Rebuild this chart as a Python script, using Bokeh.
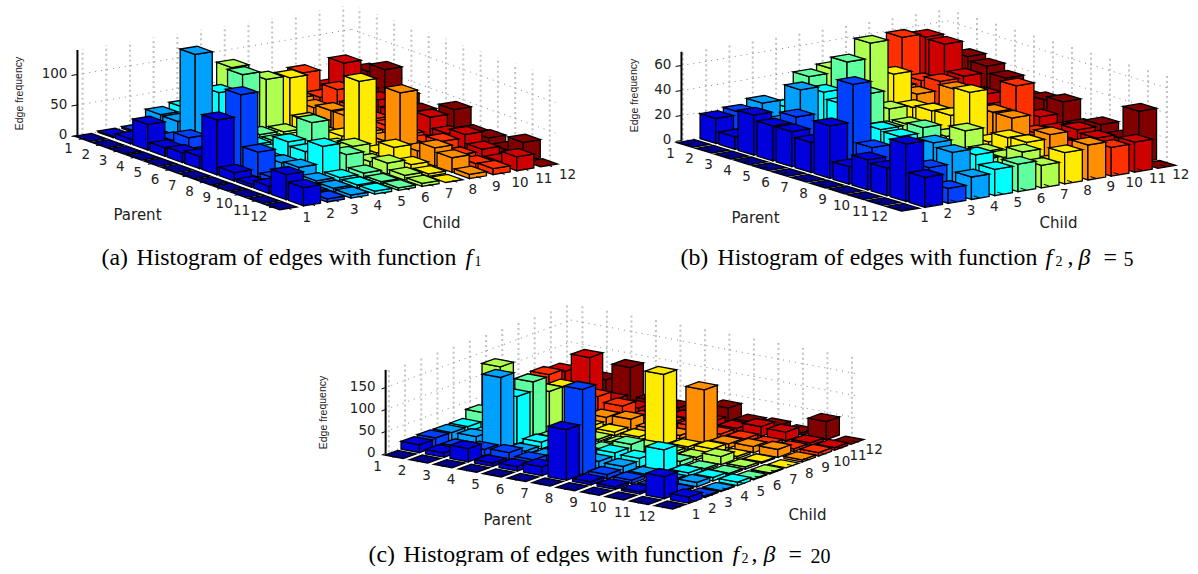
from bokeh.plotting import figure
from bokeh.embed import file_html
from bokeh.resources import INLINE
from bokeh.core.properties import value

parent_labels = [str(i) for i in range(1, 13)]
child_labels = [str(i) for i in range(1, 13)]

f1_counts = [
    [0, 2, 3, 25, 30, 45, 83, 30, 20, 55, 25, 25],
    [0, 8, 6, 24, 20, 30, 40, 40, 30, 25, 75, 55],
    [0, 42, 10, 144, 75, 98, 84, 80, 25, 48, 40, 68],
    [0, 14, 24, 10, 12, 10, 8, 20, 30, 30, 35, 35],
    [0, 16, 8, 8, 10, 8, 6, 8, 30, 20, 25, 20],
    [0, 20, 6, 5, 8, 8, 8, 15, 15, 18, 15, 15],
    [0, 90, 125, 15, 35, 60, 15, 115, 12, 15, 37, 43],
    [0, 14, 41, 17, 29, 12, 25, 8, 100, 12, 20, 15],
    [0, 5, 8, 20, 48, 28, 10, 27, 15, 24, 29, 17],
    [0, 12, 5, 8, 7, 8, 18, 9, 30, 12, 15, 8],
    [0, 41, 6, 6, 5, 4, 8, 4, 24, 8, 5, 30],
    [0, 30, 5, 5, 5, 4, 5, 0, 7, 10, 23, 0],
]
f2_beta5_counts = [
    [0, 20, 22, 26, 20, 41, 44, 30, 30, 60, 57, 35],
    [0, 10, 12, 15, 20, 28, 35, 25, 28, 30, 56, 43],
    [0, 32, 15, 46, 41, 62, 74, 46, 27, 34, 35, 40],
    [0, 28, 32, 15, 36, 41, 26, 24, 18, 25, 25, 35],
    [0, 28, 10, 12, 15, 18, 18, 26, 40, 20, 18, 25],
    [0, 24, 10, 10, 25, 15, 15, 27, 15, 18, 15, 27],
    [0, 42, 72, 14, 24, 28, 18, 50, 31, 49, 21, 30],
    [0, 14, 26, 10, 12, 14, 27, 15, 31, 16, 15, 15],
    [0, 24, 12, 12, 12, 14, 15, 23, 16, 14, 20, 21],
    [0, 22, 12, 36, 12, 16, 15, 24, 27, 14, 18, 15],
    [0, 46, 24, 33, 28, 12, 24, 12, 14, 10, 12, 41],
    [0, 24, 12, 18, 21, 22, 18, 25, 28, 23, 24, 0],
]
f2_beta20_counts = [
    [0, 18, 20, 19, 19, 37, 128, 40, 20, 70, 64, 25],
    [0, 10, 10, 20, 15, 20, 30, 35, 30, 30, 106, 42],
    [0, 30, 15, 165, 108, 128, 93, 89, 16, 41, 20, 80],
    [0, 8, 18, 8, 15, 12, 6, 10, 18, 30, 12, 15],
    [0, 10, 12, 6, 6, 5, 5, 8, 24, 12, 10, 10],
    [0, 20, 8, 6, 6, 5, 5, 8, 12, 12, 10, 8],
    [0, 115, 193, 16, 22, 28, 8, 160, 8, 15, 12, 30],
    [0, 7, 10, 15, 20, 6, 6, 6, 122, 8, 8, 8],
    [0, 6, 8, 7, 50, 10, 6, 12, 10, 8, 22, 10],
    [0, 5, 4, 5, 8, 4, 18, 5, 14, 6, 20, 5],
    [0, 50, 3, 10, 8, 4, 5, 3, 18, 6, 6, 41],
    [0, 14, 3, 2, 8, 2, 2, 0, 5, 8, 6, 0],
]

JET = ["#00008c", "#0000dc", "#0040ff", "#00a0ff", "#00ffff", "#60ff9f",
       "#afff50", "#ffeb00", "#ff8f00", "#ff3000", "#cf0000", "#800000"]

FONT = "DejaVu Sans"
SERIF = "Liberation Serif"

p = figure(width=1190, height=566, x_range=(0, 1190), y_range=(566, 0),
           output_backend="svg", toolbar_location=None, min_border=0)
p.xaxis.visible = False
p.yaxis.visible = False
p.grid.visible = False
p.outline_line_color = None


def label(x, y, s, size=13.5, font=FONT, style="normal", align="center", base="middle", angle=0, color="#222222"):
    p.text([x], [y], text=[s], text_font=value(font), text_font_size=value(f"{size}px"),
           text_font_style=value(style), text_align=value(align), text_baseline=value(base),
           angle=angle, text_color=value(color))


def panel(counts, origin, pvec, cvec, zs, wp, wc, prange, crange, zticks, zmax,
          pl_off, cl_off, parent_xy, child_xy, ylabel_xy):
    def proj(pp, cc, z=0.0):
        return (origin[0] + (pp - 1) * pvec[0] + (cc - 1) * cvec[0],
                origin[1] + (pp - 1) * pvec[1] + (cc - 1) * cvec[1] - z * zs)

    p0, p1 = prange
    c0, c1 = crange

    hx, hy, vx, vy = [], [], [], []
    for z in zticks:
        for a, b in ((proj(p0, c0, z), proj(p0, c1, z)), (proj(p0, c1, z), proj(p1, c1, z))):
            hx.append([a[0], b[0]]); hy.append([a[1], b[1]])
    for i in range(1, 13):
        for a, b in ((proj(p0, i), proj(p0, i, zmax)), (proj(i, c1), proj(i, c1, zmax))):
            vx.append([a[0], b[0]]); vy.append([a[1], b[1]])
    p.multi_line(vx, vy, line_color="#c2c2c2", line_width=2, line_dash="2 3")
    p.multi_line(hx, hy, line_color="#8a8a8a", line_width=1, line_dash="1 5")

    xs, ys, fills = [], [], []
    for i in range(12):
        for j in range(11, -1, -1):
            v = counts[i][j]
            pc, cc = i + 1, j + 1
            pa, pb = pc - wp / 2, pc + wp / 2
            ca, cb = cc - wc / 2, cc + wc / 2
            faces = [
                [proj(pa, ca, 0), proj(pb, ca, 0), proj(pb, ca, v), proj(pa, ca, v)],
                [proj(pb, ca, 0), proj(pb, cb, 0), proj(pb, cb, v), proj(pb, ca, v)],
                [proj(pa, ca, v), proj(pb, ca, v), proj(pb, cb, v), proj(pa, cb, v)],
            ]
            if v == 0:
                faces = faces[2:]
            for f in faces:
                xs.append([q[0] for q in f])
                ys.append([q[1] for q in f])
                fills.append(JET[j])
    p.patches(xs, ys, fill_color=fills, line_color="#000000", line_width=1.3, line_join="miter")

    a = proj(p0, c0); b = proj(p0, c0, zmax)
    p.line([a[0], b[0]], [a[1], b[1]], line_color="black", line_width=2)
    tx, ty = [], []
    for z in zticks:
        q = proj(p0, c0, z); r = proj(p0, c0 - 0.25, z)
        tx.append([q[0], r[0]]); ty.append([q[1], r[1]])
        label(q[0] - 10, q[1] - 1, str(z), align="right")
    for i in range(1, 13):
        q = proj(i, c0); r = proj(i, c0 - 0.28)
        tx.append([q[0], r[0]]); ty.append([q[1], r[1]])
        q = proj(p1, i); r = proj(p1 + 0.28, i)
        tx.append([q[0], r[0]]); ty.append([q[1], r[1]])
        q = proj(i, 1)
        label(q[0] + pl_off[0], q[1] + pl_off[1], parent_labels[i - 1])
        q = proj(12, i)
        label(q[0] + cl_off[0], q[1] + cl_off[1], child_labels[i - 1])
    p.multi_line(tx, ty, line_color="black", line_width=1)

    label(parent_xy[0], parent_xy[1], "Parent", size=15)
    label(child_xy[0], child_xy[1], "Child", size=15)
    label(ylabel_xy[0], ylabel_xy[1], "Edge frequency", size=10.5, font="Liberation Sans", angle=1.5708)


panel(f1_counts, (90, 137), (17.3, 6.2), (23.7, -3.9), 0.61, 0.87, 0.72, (0.54, 12.33), (0.785, 12.35),
      [0, 50, 100], 140, (-22, 10), (26, 11), (137, 214), (441, 222), (18, 93))
panel(f2_beta5_counts, (693, 143), (19, 5.8), (23.3, -3.9), 1.25, 0.83, 0.76, (0.44, 12.08), (0.94, 12.35),
      [0, 20, 40, 60], 71, (-23, 9), (22, 10), (755, 217), (1058, 222), (633, 95))
panel(f2_beta20_counts, (400, 454), (24.5, 4.6), (16.2, -5.9), 0.44, 0.75, 0.80, (0.525, 12.15), (0.8, 12.23),
      [0, 50, 100, 150], 190, (-23, 11), (26, 9), (507, 519), (807, 514), (322, 412))

CAP = 23.8
KW = dict(font=SERIF, align="left", base="alphabetic", color="black")
label(101, 256, "(a)", size=CAP, **KW)
label(136, 256, "Histogram of edges with function", size=CAP, **KW)
label(465, 256, "f", size=CAP, style="italic", **KW)
label(474, 260, "1", size=14, **KW)

label(680, 256, "(b)", size=CAP, **KW)
label(717, 256, "Histogram of edges with function", size=CAP, **KW)
label(1045, 256, "f", size=CAP, style="italic", **KW)
label(1055, 260, "2", size=14, **KW)
label(1067, 256, ",", size=CAP, **KW)
label(1078, 256, "\u03b2", size=CAP, style="italic", **KW)
label(1103, 256, "=", size=CAP, **KW)
label(1123, 258, "5", size=20, **KW)

label(368, 553, "(c)", size=CAP, **KW)
label(403, 553, "Histogram of edges with function", size=CAP, **KW)
label(732, 553, "f", size=CAP, style="italic", **KW)
label(741, 557, "2", size=14, **KW)
label(751, 553, ",", size=CAP, **KW)
label(763, 553, "\u03b2", size=CAP, style="italic", **KW)
label(788, 553, "=", size=CAP, **KW)
label(810, 555, "20", size=20, **KW)

open("out.html", "w").write(file_html(p, INLINE))
